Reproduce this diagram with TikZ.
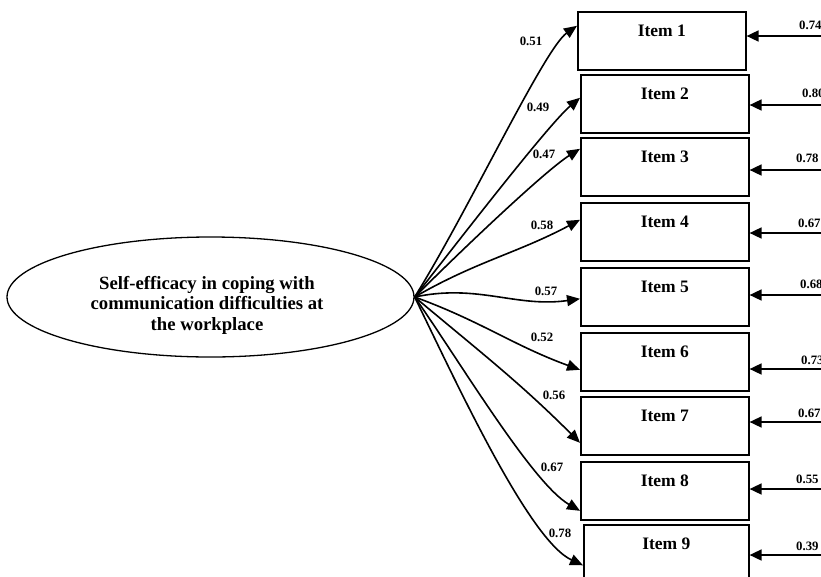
\documentclass[tikz,border=0pt]{standalone}
\usepackage{fontspec}
\setmainfont{Liberation Serif}
\usetikzlibrary{arrows.meta,shapes.geometric}
\tikzset{
    latent/.style={draw,ellipse,line width=1.3pt,minimum width=407pt,
                   minimum height=120pt,inner sep=0pt},
    lattext/.style={align=center,inner sep=0pt,
                    font=\fontsize{18.7}{20.5}\selectfont\bfseries},
    % box text sits near the top edge
    itembox/.style={draw,rectangle,line width=1.6pt,anchor=north west,
                    minimum width=168pt,inner sep=0pt,text height=25pt,
                    text depth=33pt,font=\fontsize{17.5}{20}\selectfont\bfseries},
    loading/.style={line width=1.6pt,-{Triangle[length=13pt,width=11pt]}},
    errarrow/.style={line width=1.7pt,-{Triangle[length=12pt,width=11pt]}},
    coef/.style={inner sep=0pt,font=\fontsize{12.8}{14}\selectfont\bfseries}
}
\begin{document}
\begin{tikzpicture}[x=1pt,y=-1pt]
  \useasboundingbox (0,0) rectangle (821,576);

  \node[latent] (lat) at (210.5,297) {};
  \node[lattext] (lattxt) at (207,305) {Self-efficacy in coping with\\
    communication difficulties at\\ the workplace};

  \node[itembox] (item1) at (577,11)  {Item 1};
  \node[itembox] (item2) at (580,74)  {Item 2};
  \node[itembox] (item3) at (580,137) {Item 3};
  \node[itembox] (item4) at (580,202) {Item 4};
  \node[itembox] (item5) at (580,267) {Item 5};
  \node[itembox] (item6) at (580,332) {Item 6};
  \node[itembox] (item7) at (580,396) {Item 7};
  \node[itembox] (item8) at (580,461) {Item 8};
  \node[itembox,minimum width=165pt,text depth=42pt] (item9) at (583,524) {Item 9};

  % factor loadings
  \draw[loading] (lat.east) to[out=58,in=215,out distance=100,in distance=40]  ([yshift=15pt]item1.west);
  \draw[loading] (lat.east) to[out=52,in=220,out distance=80,in distance=40]   ([yshift=6pt]item2.west);
  \draw[loading] (lat.east) to[out=45,in=212,out distance=70,in distance=40]   ([yshift=18pt]item3.west);
  \draw[loading] (lat.east) to[out=30,in=208]  ([yshift=12pt]item4.west);
  \draw[loading] (lat.east) to[out=12,in=188]  ([yshift=-2pt]item5.west);
  \draw[loading] (lat.east) to[out=-20,in=160] ([yshift=-8pt]item6.west);
  \draw[loading] (lat.east) to[out=-40,in=135] ([yshift=-17pt]item7.west);
  \draw[loading] (lat.east) to[out=-55,in=150,out distance=80,in distance=55] ([yshift=-20pt]item8.west);
  \draw[loading] (lat.east) to[out=-64,in=155,out distance=95,in distance=60] ([yshift=-7pt]item9.west);

  \node[coef] (l1) at (531,41)  {0.51};
  \node[coef] (l2) at (538,107) {0.49};
  \node[coef] (l3) at (544,154) {0.47};
  \node[coef] (l4) at (542,225) {0.58};
  \node[coef] (l5) at (546,291) {0.57};
  \node[coef] (l6) at (542,337) {0.52};
  \node[coef] (l7) at (554,395) {0.56};
  \node[coef] (l8) at (552,467) {0.67};
  \node[coef] (l9) at (560,533) {0.78};

  % error terms
  \coordinate (e1) at (830,36);
  \coordinate (e2) at (830,105);
  \coordinate (e3) at (830,170);
  \coordinate (e4) at (830,233);
  \coordinate (e5) at (830,295);
  \coordinate (e6) at (830,369);
  \coordinate (e7) at (830,422);
  \coordinate (e8) at (830,489);
  \coordinate (e9) at (830,555);
  \draw[errarrow] (e1) -- (e1 -| item1.east);
  \draw[errarrow] (e2) -- (e2 -| item2.east);
  \draw[errarrow] (e3) -- (e3 -| item3.east);
  \draw[errarrow] (e4) -- (e4 -| item4.east);
  \draw[errarrow] (e5) -- (e5 -| item5.east);
  \draw[errarrow] (e6) -- (e6 -| item6.east);
  \draw[errarrow] (e7) -- (e7 -| item7.east);
  \draw[errarrow] (e8) -- (e8 -| item8.east);
  \draw[errarrow] (e9) -- (e9 -| item9.east);

  \node[coef,anchor=west] (r1) at (799,25)  {0.74};
  \node[coef,anchor=west] (r2) at (802,93)  {0.80};
  \node[coef,anchor=west] (r3) at (796,158) {0.78};
  \node[coef,anchor=west] (r4) at (798,223) {0.67};
  \node[coef,anchor=west] (r5) at (800,284) {0.68};
  \node[coef,anchor=west] (r6) at (801,360) {0.73};
  \node[coef,anchor=west] (r7) at (798,413) {0.67};
  \node[coef,anchor=west] (r8) at (796,479) {0.55};
  \node[coef,anchor=west] (r9) at (796,546) {0.39};
\end{tikzpicture}
\end{document}
